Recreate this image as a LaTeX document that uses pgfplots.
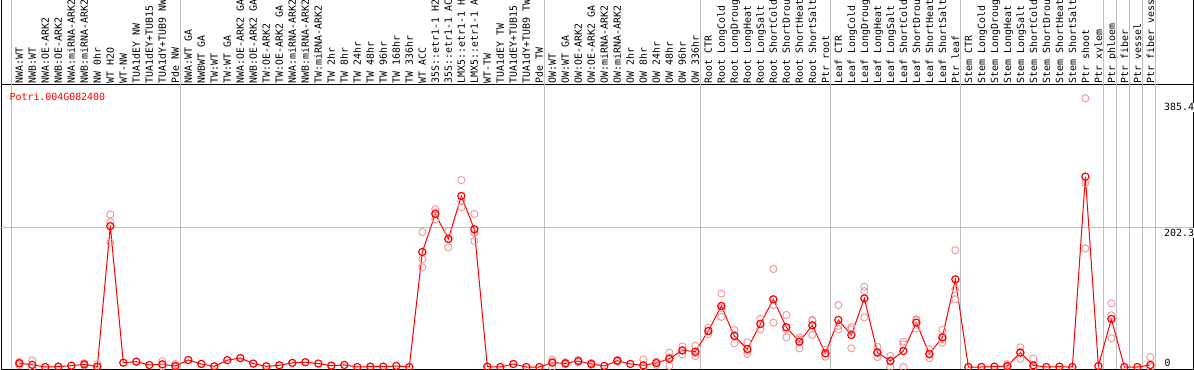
\documentclass[border=0pt]{standalone}
\usepackage{fontspec}
\usepackage{pgfplots}
\pgfplotsset{compat=1.18}
\newfontfamily\mono{DejaVu Sans Mono}
\definecolor{gridgray}{RGB}{192,192,192}
\definecolor{reppink}{RGB}{238,150,150}
\begin{document}
\begin{tikzpicture}
\begin{axis}[
  at={(1bp,1bp)}, anchor=south west,
  scale only axis, width=1192bp, height=284bp,
  xmin=-0.408, xmax=91.28, ymin=-2.91, ymax=410.4,
  axis line style={black, line width=1bp},
  xtick={1,...,88},
  xticklabels={{NWA:WT},{NWB:WT},{NWA:OE-ARK2},{NWB:OE-ARK2},{NWA:miRNA-ARK2},{NWB:miRNA-ARK2},{NW 0hr},{WT H2O},{WT-NW},{TUA1dEY NW},{TUA1dEY+TUB15},{TUA1dY+TUB9 NW},{Pde NW},{NWA:WT GA},{NWBWT GA},{TW:WT},{TW:WT GA},{NWA:OE-ARK2 GA},{NWB:OE-ARK2 GA},{TW:OE-ARK2},{TW:OE-ARK2 GA},{NWA:miRNA-ARK2},{NWB:miRNA-ARK2},{TW:miRNA-ARK2},{TW 2hr},{TW 8hr},{TW 24hr},{TW 48hr},{TW 96hr},{TW 168hr},{TW 336hr},{WT ACC},{35S::etr1-1 H2},{35S::etr1-1 AC},{LMX5::etr1-1 H},{LMX5::etr1-1 A},{WT-TW},{TUA1dEY TW},{TUA1dEY+TUB15},{TUA1dY+TUB9 TW},{Pde TW},{OW:WT},{OW:WT GA},{OW:OE-ARK2},{OW:OE-ARK2 GA},{OW:miRNA-ARK2},{OW:miRNA-ARK2},{OW 2hr},{OW 8hr},{OW 24hr},{OW 48hr},{OW 96hr},{OW 336hr},{Root CTR},{Root LongCold},{Root LongDroug},{Root LongHeat},{Root LongSalt},{Root ShortCold},{Root ShortDrou},{Root ShortHeat},{Root ShortSalt},{Ptr root},{Leaf CTR},{Leaf LongCold},{Leaf LongDroug},{Leaf LongHeat},{Leaf LongSalt},{Leaf ShortCold},{Leaf ShortDrou},{Leaf ShortHeat},{Leaf ShortSalt},{Ptr leaf},{Stem CTR},{Stem LongCold},{Stem LongDroug},{Stem LongHeat},{Stem LongSalt},{Stem ShortCold},{Stem ShortDrou},{Stem ShortHeat},{Stem ShortSalt},{Ptr shoot},{Ptr xylem},{Ptr phloem},{Ptr fiber},{Ptr vessel},{Ptr fiber vess}},
  xticklabel pos=upper,
  major tick length=0pt,
  xticklabel style={rotate=90, anchor=west, inner sep=0pt, inner xsep=1.5bp,
    text height=7.3bp, text depth=0bp,
    font={\mono\fontsize{9.9bp}{10bp}\selectfont}},
  ytick=\empty,
  clip=false,
]
\pgfplotsinvokeforeach{0.38,13.38,41.38,53.38,63.38,73.38,84.38,85.38,86.38,87.38,88.38}{
  \draw[gridgray, line width=1bp] (axis cs:#1,-2.91) -- (axis cs:#1,620);
}
\draw[gridgray, line width=1bp] (axis cs:-0.408,202.3) -- (axis cs:91.28,202.3);

\addplot[only marks, mark=o, mark size=3.6bp, reppink, line width=0.9bp] table[row sep=\\] {
x y\\
1 7.5\\ 1 6\\ 1 2.7\\
2 9.7\\ 2 0\\
6 5.5\\ 6 2.2\\
7 4\\ 7 0\\
8 222\\ 8 211\\ 8 181\\
12 8.7\\ 12 1\\
13 4.4\\ 13 0\\
32 196.5\\ 32 156.7\\ 32 145\\
33 229.5\\ 33 225\\ 33 215\\
34 198\\ 34 186\\ 34 174\\
35 272\\ 35 241.6\\ 35 232.4\\
36 222.7\\ 36 183.4\\ 36 195\\
42 11\\ 42 8\\ 42 0\\
43 7\\ 43 4\\
44 10\\ 44 7\\
45 6\\ 45 3\\
47 10\\ 47 8\\
49 11\\ 49 0\\
50 8\\ 50 3\\
51 20.8\\ 51 14\\ 51 1.5\\
52 30\\ 52 24\\ 52 18.5\\
53 31\\ 53 20\\ 53 16\\
54 57\\ 54 52.6\\ 54 47.6\\
55 107\\ 55 86\\ 55 73\\
56 53.8\\ 56 47\\ 56 34.5\\
57 35.9\\ 57 23.8\\ 57 18.9\\
58 69.9\\ 58 62.9\\ 58 54.9\\
59 142.6\\ 59 90.2\\ 59 64.5\\
60 75.7\\ 60 54.5\\ 60 43.2\\
61 43\\ 61 40\\ 61 27.2\\
62 68.4\\ 62 67\\ 62 46.6\\
63 25\\ 63 19.9\\ 63 15\\
64 90.2\\ 64 60\\ 64 54.9\\
65 57.8\\ 65 54.8\\ 65 27.2\\
66 116.9\\ 66 110.5\\ 66 72.3\\
67 29.5\\ 67 20\\ 67 14.5\\
68 16\\ 68 9.6\\ 68 0.5\\
69 36.8\\ 69 33\\ 69 0\\
70 69.4\\ 70 68\\ 70 56\\
71 25.8\\ 71 18\\ 71 13\\
72 53.8\\ 72 40.5\\ 72 35.4\\
73 170\\ 73 113\\ 73 98.5\\
77 4.4\\ 77 0\\
78 28.6\\ 78 22\\ 78 12.1\\
79 12.1\\ 79 0\\
83 391\\ 83 268\\ 83 172.7\\
85 92.7\\ 85 75.2\\ 85 41.8\\
88 14.1\\ 88 0\\
};

\addplot[red, line width=1bp, mark=o, mark size=3.6bp, mark options={line width=1.2bp}] table[row sep=\\] {
x y\\
1 5.4\\ 2 3.2\\ 3 0\\ 4 0.5\\ 5 1.9\\ 6 3.9\\ 7 0.5\\ 8 205\\ 9 6.3\\ 10 7.8\\
11 2.9\\ 12 3.9\\ 13 1.5\\ 14 10.2\\ 15 4.4\\ 16 1\\ 17 10\\ 18 13\\ 19 5\\ 20 1\\
21 2.5\\ 22 6\\ 23 7\\ 24 5\\ 25 2\\ 26 3\\ 27 0\\ 28 0.5\\ 29 0.5\\ 30 1.5\\
31 0\\ 32 167.4\\ 33 222.7\\ 34 186.3\\ 35 248.9\\ 36 200.4\\ 37 0.5\\ 38 0\\ 39 4.4\\ 40 0\\
41 0\\ 42 6.3\\ 43 5.3\\ 44 8.7\\ 45 4.4\\ 46 1.5\\ 47 9.2\\ 48 4.4\\ 49 2.4\\ 50 5.8\\
51 12.1\\ 52 24.3\\ 53 22.3\\ 54 52.4\\ 55 88.8\\ 56 45.1\\ 57 26.2\\ 58 62.6\\ 59 98.5\\ 60 57.8\\
61 36.8\\ 62 60.7\\ 63 19.9\\ 64 68.4\\ 65 46.6\\ 66 99.9\\ 67 21.3\\ 68 8.7\\ 69 23.3\\ 70 64.5\\
71 18.9\\ 72 43.2\\ 73 127.6\\ 74 0\\ 75 0\\ 76 0.5\\ 77 1.5\\ 78 20.9\\ 79 2.4\\ 80 0\\
81 0.5\\ 82 0\\ 83 277\\ 84 1.5\\ 85 69.9\\ 86 0\\ 87 0\\ 88 2.9\\
};
\end{axis}
\draw[black, line width=1bp] (1bp,285bp) -- (1bp,372bp);
\draw[black, line width=1bp] (1193bp,285bp) -- (1193bp,372bp);
\node[anchor=base west, inner sep=0pt, text=red, font={\mono\fontsize{9.9bp}{10bp}\selectfont}] at (9.5bp,269.3bp) {Potri.004G082400};
\node[anchor=base west, inner sep=1bp, fill=white, font={\mono\fontsize{9.9bp}{10bp}\selectfont}] at (1163bp,259bp) {385.4};
\node[anchor=base west, inner sep=1bp, fill=white, font={\mono\fontsize{9.9bp}{10bp}\selectfont}] at (1163bp,133.5bp) {202.3};
\node[anchor=base west, inner sep=1bp, fill=white, font={\mono\fontsize{9.9bp}{10bp}\selectfont}] at (1163.5bp,3.7bp) {0};
\pgfresetboundingbox
\path[use as bounding box] (0,0) rectangle (1194bp,370bp);
\end{tikzpicture}
\end{document}
